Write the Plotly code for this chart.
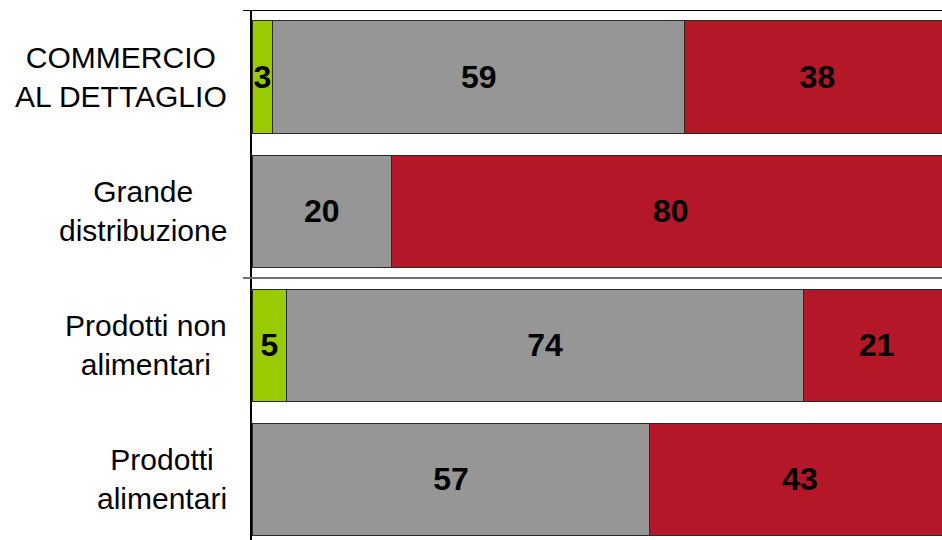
import plotly.graph_objects as go

# Categories (top to bottom) and the three stacked shares (%)
categories = ["COMMERCIO<br>AL DETTAGLIO", "Grande<br>distribuzione",
              "Prodotti non<br>alimentari", "Prodotti<br>alimentari"]
aumento = [3, None, 5, None]
stabile = [59, 20, 74, 57]
diminuzione = [38, 80, 21, 43]

series = [
    ("Aumento", aumento, "#99CC00"),
    ("Stabilità", stabile, "#969696"),
    ("Diminuzione", diminuzione, "#B41728"),
]

FONT = "Liberation Sans, Arial, sans-serif"
ypos = list(range(len(categories)))

fig = go.Figure()
for name, vals, color in series:
    fig.add_trace(go.Bar(
        name=name,
        y=ypos,
        x=vals,
        orientation="h",
        marker=dict(color=color, line=dict(color="#2a2a2a", width=1)),
        text=["" if v is None else str(v) for v in vals],
        textposition="inside",
        insidetextanchor="middle",
        textangle=0,
        constraintext="none",
        textfont=dict(family=FONT, size=32, color="black", weight="bold"),
        hoverinfo="skip",
    ))

# Category labels, block right-aligned next to the axis, lines centred
for i, cat in enumerate(categories):
    fig.add_annotation(
        x=-0.034, xref="paper", y=i, yref="y",
        text=cat, showarrow=False,
        xanchor="right", yanchor="middle", align="center",
        font=dict(family=FONT, size=30, color="black"),
    )

# Top border and the separator between the two groups of bars
fig.add_shape(type="line", xref="paper", yref="y", x0=-0.013, x1=1,
              y0=-0.5, y1=-0.5, line=dict(color="black", width=2), layer="above")
fig.add_shape(type="line", xref="paper", yref="y", x0=-0.013, x1=1,
              y0=1.5, y1=1.5, line=dict(color="#707070", width=2), layer="above")

fig.update_layout(
    width=942, height=540,
    margin=dict(l=252, r=0, t=10, b=0),
    barmode="stack",
    bargap=0.164,
    showlegend=False,
    plot_bgcolor="white",
    paper_bgcolor="white",
    uniformtext=dict(mode="show", minsize=32),
    xaxis=dict(range=[0, 98.85], showgrid=False, zeroline=False,
               showticklabels=False, ticks="", showline=False, fixedrange=True),
    yaxis=dict(range=[3.455, -0.5], showgrid=False, zeroline=False,
               tickvals=ypos, showticklabels=False, ticks="",
               showline=True, linecolor="black", linewidth=2, fixedrange=True),
)

fig.write_html("out.html")
